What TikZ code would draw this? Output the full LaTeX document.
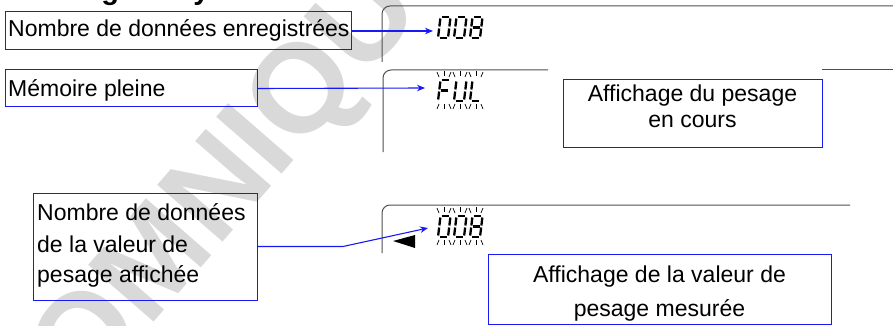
\documentclass[tikz,border=0pt]{standalone}
\usepackage{fontspec}
\setmainfont{Liberation Sans}
\usetikzlibrary{arrows.meta}
\definecolor{boxblue}{RGB}{25,25,245}
\definecolor{panelgray}{RGB}{80,80,80}
\definecolor{wmgray}{RGB}{217,217,217}
\tikzset{
  lbl/.style={draw=boxblue, line width=1pt, inner sep=0pt, minimum width=#1},
  txt/.style={font=\fontsize{23}{31}\selectfont, inner sep=0pt, text=black},
  callout/.style={draw=boxblue, line width=1.1pt, -{Stealth[length=8pt,width=6.5pt]}},
  panel/.style={draw=panelgray, line width=1pt, rounded corners=8pt},
  seg/.style={line width=2.3pt},
  blinktick/.style={line width=0.7pt},
}
\newcommand\segA{\draw[seg] (1.5,-21) -- (8.5,-21);}
\newcommand\segB{\draw[seg] (10,-19.5) -- (10,-11.5);}
\newcommand\segC{\draw[seg] (10,-9.5) -- (10,-1.5);}
\newcommand\segD{\draw[seg] (1.5,0) -- (8.5,0);}
\newcommand\segE{\draw[seg] (0,-1.5) -- (0,-9.5);}
\newcommand\segF{\draw[seg] (0,-11.5) -- (0,-19.5);}
\newcommand\segG{\draw[seg] (1.5,-10.5) -- (8.5,-10.5);}
\newcommand\dgzero{\segA\segB\segC\segD\segE\segF}
\newcommand\dgeight{\segA\segB\segC\segD\segE\segF\segG}
\newcommand\dgF{\segA\segE\segF\segG}
\newcommand\dgU{\segB\segC\segD\segE\segF}
\newcommand\dgL{\segD\segE\segF}
% #1 digit left x, #2 digit bottom y, #3 glyph
\newcommand\lcd[3]{\begin{scope}[shift={(#1,#2)}, xslant=0.12]#3\end{scope}}
% #1 centre x, #2 top y, #3 bottom y
\newcommand\blinkmarks[3]{%
  \draw[blinktick] (#1-7,#2-8) -- (#1-5,#2-3);
  \draw[blinktick] (#1,#2-9) -- (#1,#2-4);
  \draw[blinktick] (#1+7,#2-8) -- (#1+5,#2-3);
  \draw[blinktick] (#1-5,#3+3) -- (#1-7,#3+8);
  \draw[blinktick] (#1,#3+3) -- (#1,#3+8);
  \draw[blinktick] (#1+5,#3+3) -- (#1+7,#3+8);}
\begin{document}
\begin{tikzpicture}[x=1pt, y=-1pt]
\useasboundingbox (0,0) rectangle (893,326);
\clip (0,0) rectangle (893,326);
% watermark
\node[rotate=49, text=wmgray, font=\fontsize{126}{126}\bfseries, inner sep=0pt] (wm) at (230,186) {OMNIQU};
% heading (cut off at the top)
\node[anchor=base west, inner sep=0pt, font=\fontsize{29}{33}\bfseries] (head) at (3,0) {Affichage et symboles};

% display panels
\draw[panel] (382,62) -- (382,6) -- (893,6);
\draw[panel] (383,152) -- (383,70) -- (548,70);
\draw[panelgray, line width=1pt] (822,70) -- (893,70);
\draw[panel] (382,253) -- (382,205) -- (850,205);

% digits panel 1
\lcd{438}{38}{\dgzero}\lcd{454}{38}{\dgzero}\lcd{470}{38}{\dgeight}
\coordinate (d1) at (433,31);
% FUL panel 2
\lcd{438}{101}{\dgF}\lcd{454}{101}{\dgU}\lcd{470}{101}{\dgL}
\blinkmarks{444}{80}{101}\blinkmarks{460}{80}{101}\blinkmarks{476}{80}{101}
\coordinate (d2) at (425,88);
% panel 3
\lcd{438}{237}{\dgzero}\lcd{454}{237}{\dgzero}\lcd{470}{237}{\dgeight}
\blinkmarks{444}{216}{237}\blinkmarks{460}{216}{237}\blinkmarks{476}{216}{237}
\fill[black] (393,241) -- (415,235) -- (415,248) -- cycle;
\coordinate (d3) at (428,228);
\coordinate (bend3) at (343,246.5);

% label boxes
\node[lbl=346pt, minimum height=38pt] (b1) at (178,31) {};
\node[txt, anchor=base west] (t1) at (8,37) {Nombre de données enregistrées};
\node[lbl=252pt, minimum height=37pt] (b2) at (131,88.5) {};
\node[txt, anchor=base west] (t2) at (8,96) {Mémoire pleine};
\node[lbl=259pt, minimum height=67pt] (b4) at (692.5,113.5) {};
\node[txt, anchor=base] (t4a) at (692.5,101.5) {Affichage du pesage};
\node[txt, anchor=base] (t4b) at (692.5,128) {en cours};
\node[lbl=224pt, minimum height=107pt] (b3) at (145,246.5) {};
\node[txt, anchor=base west] (t3a) at (37,220) {Nombre de données};
\node[txt, anchor=base west] (t3b) at (37,252) {de la valeur de};
\node[txt, anchor=base west] (t3c) at (37,282) {pesage affichée};
\node[lbl=343pt, minimum height=70pt] (b5) at (659.5,289) {};
\node[txt, anchor=base] (t5a) at (659.5,282.5) {Affichage de la valeur de};
\node[txt, anchor=base] (t5b) at (659.5,316.5) {pesage mesurée};

% callouts
\draw[callout] (b1.east) -- (d1);
\draw[callout] (b2.east) -- (d2);
\draw[callout] (b3.east) -- (bend3) -- (d3);
\end{tikzpicture}
\end{document}
